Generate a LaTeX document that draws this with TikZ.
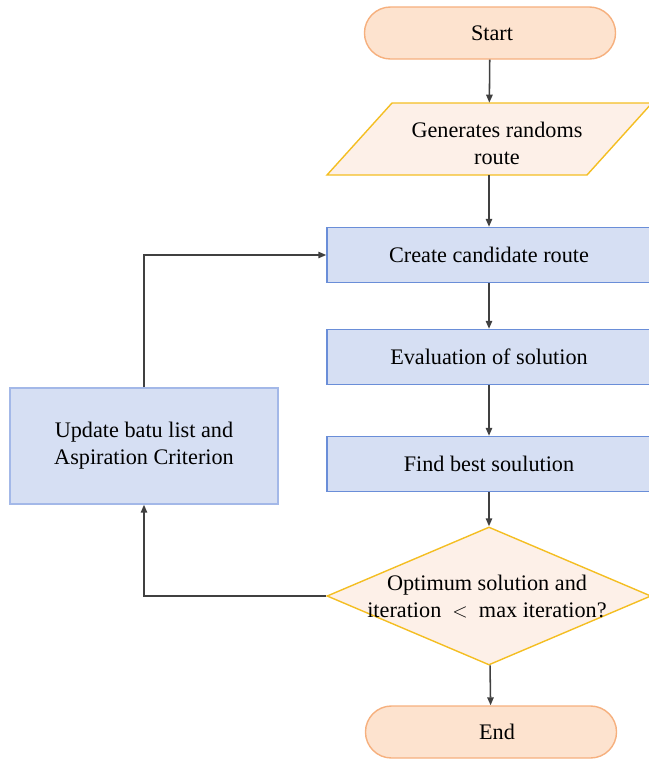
\documentclass[tikz,border=0pt]{standalone}
\usepackage{fontspec}
\setmainfont{Liberation Serif}
\usetikzlibrary{arrows.meta,shapes.geometric}
\definecolor{procfill}{HTML}{D6DFF3}
\definecolor{procline}{HTML}{6A8ED8}
\definecolor{updline}{HTML}{A3B8E8}
\definecolor{termfill}{HTML}{FDE3CF}
\definecolor{termline}{HTML}{F6B07E}
\definecolor{iofill}{HTML}{FDF0E8}
\definecolor{ioline}{HTML}{F4BE22}
\definecolor{arrowgray}{HTML}{404040}
\tikzset{
  terminal/.style={draw=termline, fill=termfill, line width=1pt, rounded corners=0.65cm,
    minimum width=6.275cm, minimum height=1.3cm},
  process/.style={draw=procline, fill=procfill, line width=1pt,
    minimum width=8.1cm, minimum height=1.375cm, font=\fontsize{15.8}{19.2}\selectfont},
  inout/.style={draw=ioline, fill=iofill, line width=1pt},
  decision/.style={draw=ioline, fill=iofill, line width=1pt, diamond, aspect=2.35,
    minimum width=8.1cm, minimum height=3.45cm, inner sep=0pt},
  label/.style={font=\fontsize{15.8}{19.2}\selectfont, align=center},
  flow/.style={-{Triangle[length=2mm,width=1.6mm]}, arrowgray, line width=1.1pt},
}
\begin{document}
\begin{tikzpicture}[x=0.025cm, y=-0.025cm]
  \useasboundingbox (0,0) rectangle (649,759);

  % Main column
  \node[terminal] (start) at (490,33) {};
  \node[label] (starttext) at (492,33) {Start};
  \draw[inout] (327,175) -- (392,103) -- (652,103) -- (587,175) -- cycle;
  \node[label, minimum height=1.8cm] (gen) at (489,139) {};
  \node[label] (gentext) at (497,143) {Generates randoms\\route};
  \node[process] (cand) at (489,255) {Create candidate route};
  \node[process] (eval) at (489,357) {Evaluation of solution};
  \node[process] (best) at (489,464) {Find best soulution};
  \node[decision] (check) at (489,596) {};
  \node[label] (checktext) at (487,597)
    {Optimum solution and\\iteration\ \ $<$\ \ max iteration?};
  \node[terminal] (end) at (491,732) {};
  \node[label] (endtext) at (497,732) {End};

  % Update box on the left
  \node[process, draw=updline, minimum width=6.7cm, minimum height=2.9cm, align=center]
    (upd) at (144,446) {Update batu list and\\Aspiration Criterion};

  % Arrows
  \draw[flow] (start) -- (gen);
  \draw[flow] (gen) -- (cand);
  \draw[flow] (cand) -- (eval);
  \draw[flow] (eval) -- (best);
  \draw[flow] (best) -- (check);
  \draw[flow] (check) -- (end);
  \draw[flow] (check.west) -| (upd.south);
  \draw[flow] (upd.north) |- (cand.west);
\end{tikzpicture}
\end{document}
